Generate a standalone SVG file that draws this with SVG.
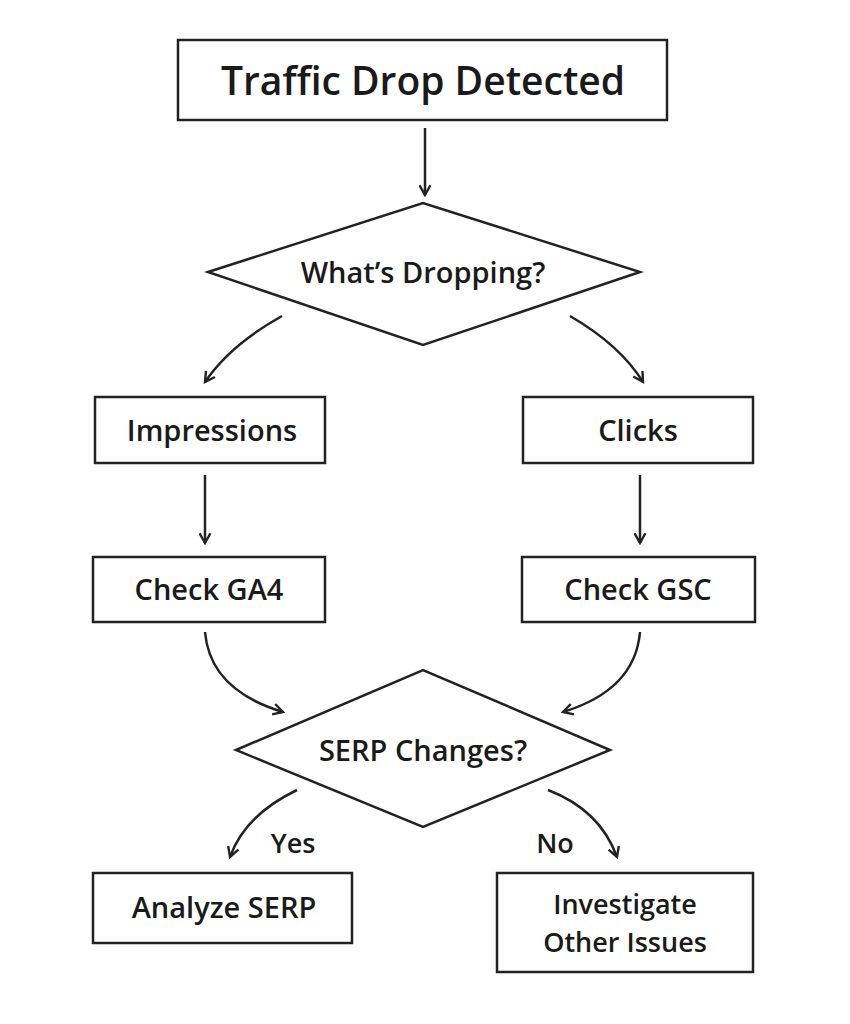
<svg xmlns="http://www.w3.org/2000/svg" width="850" height="1024" viewBox="0 0 850 1024">
<style>
.n{fill:#fff;stroke:#222;stroke-width:2.5}
.t{font-family:"Open Sans","Liberation Sans",sans-serif;fill:#1a1a1a;text-anchor:middle;dominant-baseline:central;font-weight:600;font-size:29px}
.c{fill:none;stroke:#222;stroke-width:2.5;marker-end:url(#a)}
</style>
<defs><marker id="a" viewBox="0 0 12 12" refX="10" refY="6" markerWidth="13" markerHeight="13" markerUnits="userSpaceOnUse" orient="auto"><path d="M1,1 L10,6 L1,11" fill="none" stroke="#222" stroke-width="2.2"/></marker></defs>
<rect width="850" height="1024" fill="#fff"/>
<g id="connectors">
<path class="c" d="M425,128 V195"/>
<path class="c" d="M282,316 Q230,345 205,382"/>
<path class="c" d="M570,316 Q620,345 643,382"/>
<path class="c" d="M205,475 V543"/>
<path class="c" d="M640,475 V543"/>
<path class="c" d="M205,632 Q210,690 283,712"/>
<path class="c" d="M640,632 Q635,690 563,712"/>
<path class="c" d="M297,790 Q245,815 230,857"/>
<path class="c" d="M548,790 Q600,810 617,857"/>
<text class="t" x="293" y="842" style="font-size:27px">Yes</text>
<text class="t" x="555" y="842" style="font-size:27px">No</text>
</g>
<g id="n1"><rect class="n" x="178" y="40" width="489" height="80"/><text class="t" x="423" y="79" style="font-size:39px">Traffic Drop Detected</text></g>
<g id="n2"><polygon class="n" points="208,272 423,203 640,272 423,345"/><text class="t" x="423" y="271" style="font-size:29px">What’s Dropping?</text></g>
<g id="n3"><rect class="n" x="95" y="397" width="230" height="66"/><text class="t" x="212" y="429">Impressions</text></g>
<g id="n4"><rect class="n" x="523" y="397" width="230" height="66"/><text class="t" x="638" y="429">Clicks</text></g>
<g id="n5"><rect class="n" x="93" y="557" width="232" height="65"/><text class="t" x="209" y="588">Check GA4</text></g>
<g id="n6"><rect class="n" x="522" y="557" width="233" height="65"/><text class="t" x="638" y="588">Check GSC</text></g>
<g id="n7"><polygon class="n" points="236,750 423,670 610,750 423,827"/><text class="t" x="423" y="749">SERP Changes?</text></g>
<g id="n8"><rect class="n" x="93" y="873" width="259" height="70"/><text class="t" x="224" y="906">Analyze SERP</text></g>
<g id="n9"><rect class="n" x="497" y="873" width="256" height="99"/><text class="t" x="625" y="903" style="font-size:27px">Investigate</text><text class="t" x="625" y="941" style="font-size:27px">Other Issues</text></g>
</svg>
